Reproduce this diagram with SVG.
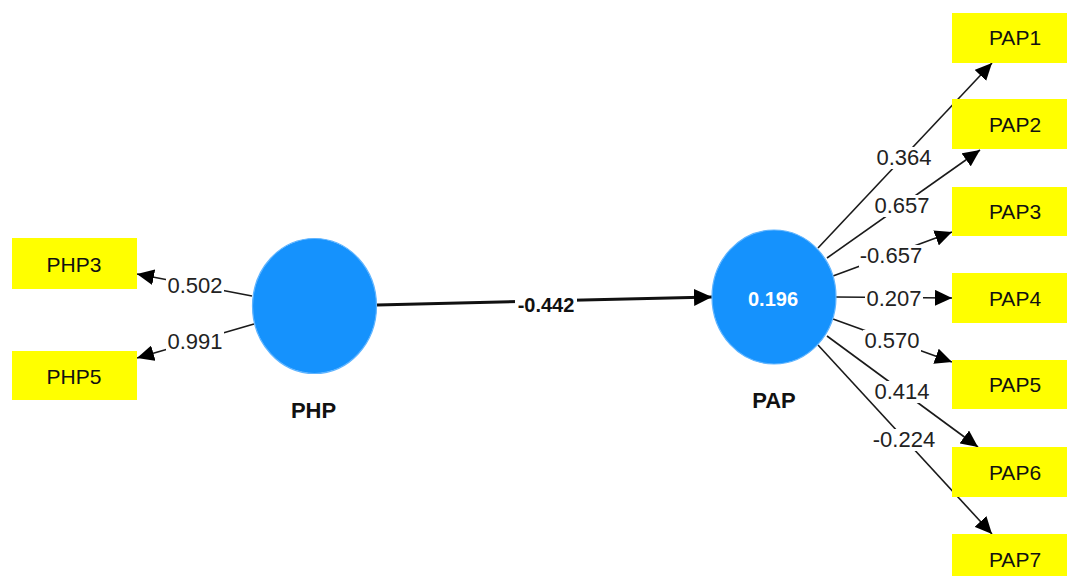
<svg xmlns="http://www.w3.org/2000/svg" width="1067" height="576" viewBox="0 0 1067 576">
<style>
.box{fill:#ffff00}
.bt{font-family:"Liberation Sans",Arial,sans-serif;font-size:21px;fill:#111;text-anchor:middle}
.lv{fill:#1592fd;stroke:#5fb4ff;stroke-width:1.2}
.ln{stroke:#1a1a1a;stroke-width:1.6;fill:none;marker-end:url(#ah)}
.main{stroke:#111;stroke-width:3;fill:none;marker-end:url(#ahm)}
.bg{fill:#fff}
.lab{font-family:"Liberation Sans",Arial,sans-serif;font-size:22px;fill:#222;text-anchor:middle}
.nl{font-family:"Liberation Sans",Arial,sans-serif;font-size:22px;font-weight:bold;fill:#111;text-anchor:middle}
</style>
<defs>
<marker id="ah" viewBox="0 0 17 16" refX="17" refY="8" markerWidth="17" markerHeight="16" markerUnits="userSpaceOnUse" orient="auto"><path d="M0,0 L17,8 L0,16 z" fill="#000"/></marker>
<marker id="ahm" viewBox="0 0 18 17" refX="18" refY="8.5" markerWidth="18" markerHeight="17" markerUnits="userSpaceOnUse" orient="auto"><path d="M0,0 L18,8.5 L0,17 z" fill="#000"/></marker>
</defs>
<rect width="1067" height="576" fill="#fff"/>
<g id="connectors">
<line class="main" x1="377" y1="305" x2="712" y2="297"/>
<line class="ln" x1="252" y1="296" x2="137" y2="274"/>
<line class="ln" x1="254" y1="324" x2="137" y2="358"/>
<line class="ln" x1="818" y1="248" x2="992" y2="63"/>
<line class="ln" x1="827" y1="258" x2="980" y2="150"/>
<line class="ln" x1="833" y1="276" x2="952" y2="232"/>
<line class="ln" x1="836" y1="297" x2="952" y2="298"/>
<line class="ln" x1="833" y1="319" x2="952" y2="362"/>
<line class="ln" x1="827" y1="336" x2="978" y2="447"/>
<line class="ln" x1="818" y1="345" x2="992" y2="534"/>
<rect class="bg" x="166" y="275" width="58" height="22"/>
<rect class="bg" x="166" y="331" width="58" height="22"/>
<rect class="bg" x="875" y="147" width="58" height="22"/>
<rect class="bg" x="873" y="195" width="58" height="22"/>
<rect class="bg" x="859" y="245" width="64" height="22"/>
<rect class="bg" x="865" y="288" width="58" height="22"/>
<rect class="bg" x="863" y="330" width="58" height="22"/>
<rect class="bg" x="873" y="381" width="58" height="22"/>
<rect class="bg" x="872" y="429" width="65" height="22"/>
<rect class="bg" x="515" y="294" width="62" height="22"/>
<text class="lab" x="195" y="293">0.502</text>
<text class="lab" x="195" y="349">0.991</text>
<text class="lab" x="904" y="165">0.364</text>
<text class="lab" x="902" y="213">0.657</text>
<text class="lab" x="891" y="263">-0.657</text>
<text class="lab" x="894" y="306">0.207</text>
<text class="lab" x="892" y="348">0.570</text>
<text class="lab" x="902" y="399">0.414</text>
<text class="lab" x="904" y="447">-0.224</text>
<text class="lab" x="546" y="312" style="font-weight:bold;font-size:20px;fill:#111">-0.442</text>
</g>
<g id="PHP">
<ellipse class="lv" cx="314.5" cy="306" rx="62" ry="67.5"/>
<text class="nl" x="313.5" y="418">PHP</text>
</g>
<g id="PAP">
<ellipse class="lv" cx="774" cy="297" rx="62" ry="67"/>
<text x="773" y="306" style="font-family:'Liberation Sans',Arial,sans-serif;font-size:20px;font-weight:bold;fill:#fff;text-anchor:middle">0.196</text>
<text class="nl" x="774" y="408">PAP</text>
</g>
<g id="PHP3"><rect class="box" x="12" y="238" width="125" height="51"/><text class="bt" x="74" y="272">PHP3</text></g>
<g id="PHP5"><rect class="box" x="12" y="351" width="125" height="49"/><text class="bt" x="74" y="384">PHP5</text></g>
<g id="PAP1"><rect class="box" x="952" y="13" width="125" height="50"/><text class="bt" x="1015" y="45">PAP1</text></g>
<g id="PAP2"><rect class="box" x="952" y="99" width="125" height="50"/><text class="bt" x="1015" y="132">PAP2</text></g>
<g id="PAP3"><rect class="box" x="952" y="187" width="125" height="49"/><text class="bt" x="1015" y="219">PAP3</text></g>
<g id="PAP4"><rect class="box" x="952" y="273" width="125" height="50"/><text class="bt" x="1015" y="306">PAP4</text></g>
<g id="PAP5"><rect class="box" x="952" y="360" width="125" height="49"/><text class="bt" x="1015" y="392">PAP5</text></g>
<g id="PAP6"><rect class="box" x="952" y="447" width="125" height="50"/><text class="bt" x="1015" y="480">PAP6</text></g>
<g id="PAP7"><rect class="box" x="952" y="534" width="125" height="50"/><text class="bt" x="1015" y="567">PAP7</text></g>
</svg>
